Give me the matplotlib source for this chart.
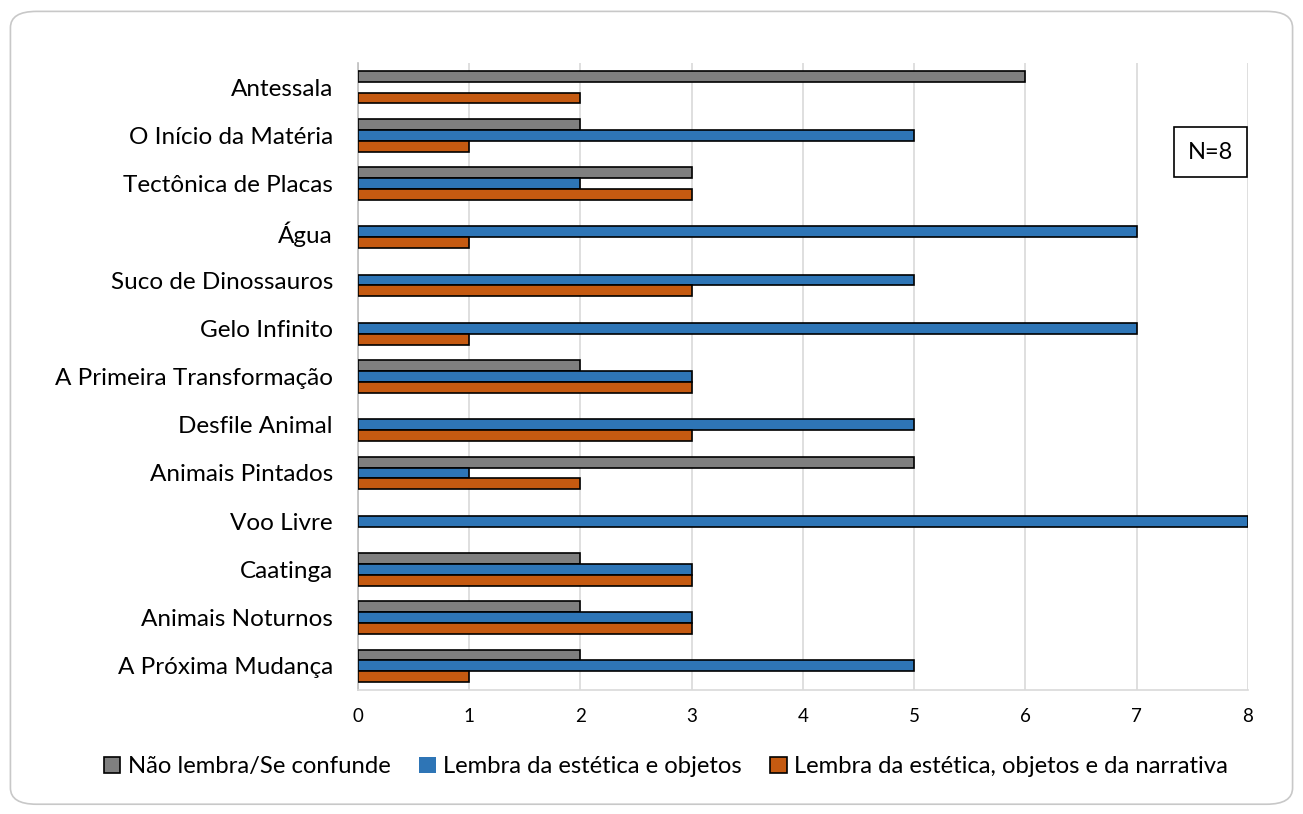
import numpy as np
import matplotlib.pyplot as plt
from matplotlib.patches import FancyBboxPatch

plt.rcParams['font.family'] = ['Lato', 'DejaVu Sans']

categorias = ['Antessala', 'O Início da Matéria', 'Tectônica de Placas', 'Água',
              'Suco de Dinossauros', 'Gelo Infinito', 'A Primeira Transformação',
              'Desfile Animal', 'Animais Pintados', 'Voo Livre', 'Caatinga',
              'Animais Noturnos', 'A Próxima Mudança']
nao_lembra = [6, 2, 3, 0, 0, 0, 2, 0, 5, 0, 2, 2, 2]
estetica = [0, 5, 2, 7, 5, 7, 3, 5, 1, 8, 3, 3, 5]
narrativa = [2, 1, 3, 1, 3, 1, 3, 3, 2, 0, 3, 3, 1]

series = [
    ('Não lembra/Se confunde', nao_lembra, '#7f7f7f'),
    ('Lembra da estética e objetos', estetica, '#2e75b6'),
    ('Lembra da estética, objetos e da narrativa', narrativa, '#c55a11'),
]

fig = plt.figure(figsize=(13.03, 8.14), dpi=100)
ax = fig.add_axes([0.2747, 0.1523, 0.6831, 0.7703])

y = np.arange(len(categorias))
h = 0.225
for i, (nome, vals, cor) in enumerate(series):
    lw = [1.2 if v > 0 else 0 for v in vals]
    ax.barh(y + (i - 1) * h, vals, height=h, color=cor, edgecolor='black',
            linewidth=lw, label=nome, zorder=3)

ax.set_ylim(len(categorias) - 0.5, -0.5)
ax.set_xlim(0, 8)
ax.set_xticks(range(0, 9))
ax.set_yticks(y)
ax.set_yticklabels(categorias, fontsize=17.5)
ax.tick_params(axis='x', labelsize=13.5, length=0, pad=13)
ax.tick_params(axis='y', length=0, pad=18)
ax.grid(axis='x', color='#d9d9d9', linewidth=1.2, zorder=0)
for s in ['top', 'right']:
    ax.spines[s].set_visible(False)
ax.spines['bottom'].set_color('#d9d9d9')
ax.spines['bottom'].set_linewidth(1.2)
ax.spines['left'].set_color('#bfbfbf')
ax.spines['left'].set_linewidth(1.2)

ax.text(0.958, 0.858, 'N=8', transform=ax.transAxes, fontsize=17, ha='center',
        va='center', bbox=dict(boxstyle='square,pad=0.6', facecolor='white',
                               edgecolor='black', linewidth=1.2))

fig.legend(loc='center', bbox_to_anchor=(0.511, 0.058), ncol=3, frameon=False,
           fontsize=17.2, handlelength=0.7, handleheight=0.7, handletextpad=0.3,
           columnspacing=1.2)

borda = FancyBboxPatch((0.008, 0.012), 0.984, 0.974, boxstyle='round,pad=0,rounding_size=0.02',
                       transform=fig.transFigure, facecolor='none', edgecolor='#c8c8c8',
                       linewidth=1.2)
fig.patches.append(borda)

fig.savefig('out.png', dpi=100)
